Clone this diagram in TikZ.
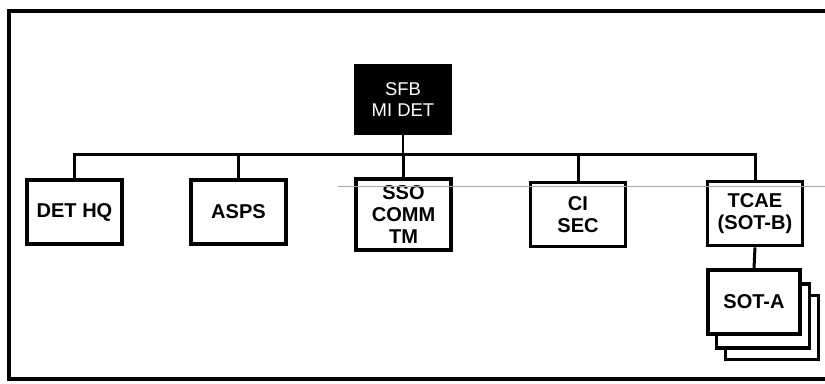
\documentclass[tikz,border=0pt]{standalone}
\usepackage{fontspec}
\setmainfont{Liberation Sans}
\usetikzlibrary{positioning}

\begin{document}
\begin{tikzpicture}[x=0.02cm, y=-0.02cm,
		unit/.style={draw=black, line width=2.2pt, fill=white, minimum width=1.9cm, minimum height=1.28cm,
			align=center, inner sep=1pt, font=\fontsize{11.4}{12.5}\selectfont\bfseries},
		hq/.style={fill=black, text=white, minimum width=1.96cm, minimum height=1.42cm,
			align=center, font=\fontsize{10.5}{11.9}\selectfont},
		link/.style={line width=1.7pt},
		frame/.style={line width=2.3pt}]
				\useasboundingbox (0,0) rectangle (825,383);
				%
				\draw [frame] (825,11) -- (9,11) -- (9,379) -- (825,379);
				%
				\node [hq] (sfb) at (403,99.5) {SFB\\MI DET};
				%
				\node [unit] (dethq) at (74.5,212) {DET HQ};
				\node [unit] (asps) at (238.5,212) {ASPS};
				\node [unit, minimum height=1.42cm] (sso) at (403.5,214.5) {SSO\\COMM\\TM};
				\node [unit] (cisec) at (578,214.5) {CI\\SEC};
				\node [unit] (tcae) at (755,213.5) {TCAE\\(SOT-B)};
				%
				\node [unit, minimum width=1.86cm] (sota3) at (772,327.5) {};
				\node [unit, minimum width=1.86cm] (sota2) at (763,316) {};
				\node [unit, minimum width=1.84cm] (sota) at (754,302) {SOT-A};
				%
				\coordinate (bus) at (0,154);
				\draw [link] (sfb.south) -- (sfb.south |- bus);
				\draw [link] (dethq.north) -- (dethq.north |- bus) -- (tcae.north |- bus) -- (tcae.north);
				\foreach \n in {asps, sso, cisec}
					\draw [link] (\n.north |- bus) -- (\n.north);
				\draw [link] (tcae.south) -- (sota.north);
				%
				\draw [black!35, line width=0.4pt] (338,186) -- (825,186);
		
			\end{tikzpicture}
\end{document}
